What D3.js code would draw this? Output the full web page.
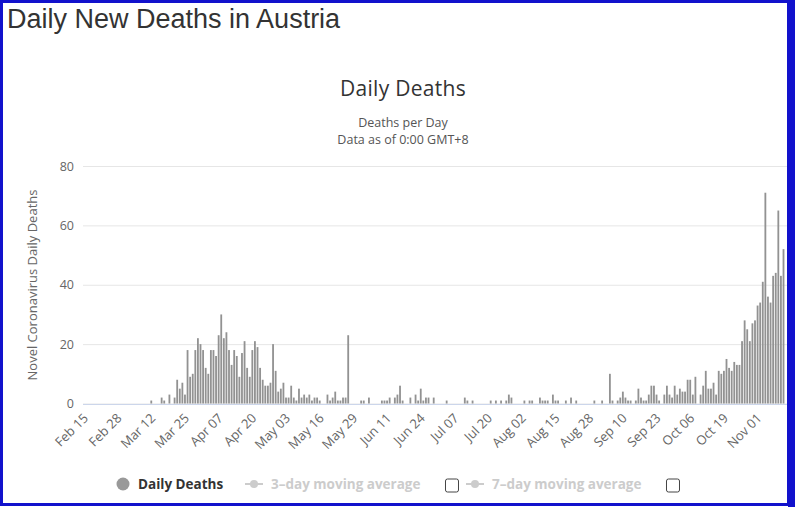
<!DOCTYPE html>
<html>
<head>
<meta charset="utf-8">
<script src="https://cdn.jsdelivr.net/npm/d3@7"></script>
<style>
  body { margin: 0; background: #fff; }
  svg { display: block; }
  .chart-text { font-family: "Open Sans", sans-serif; }
</style>
</head>
<body>
<svg id="chart" width="795" height="507"></svg>
<script>
// daily deaths, one value per day from Feb 15 to Nov 12
var deaths = [
  0, 0, 0, 0, 0, 0, 0, 0, 0, 0,
  0, 0, 0, 0, 0, 0, 0, 0, 0, 0,
  0, 0, 0, 0, 0, 0, 1, 0, 0, 0,
  2, 1, 0, 3, 0, 2, 8, 5, 7, 3,
  18, 9, 10, 18, 22, 20, 18, 12, 10, 18,
  18, 16, 23, 30, 22, 24, 18, 13, 18, 16,
  9, 17, 21, 12, 9, 18, 21, 19, 12, 8,
  6, 6, 7, 20, 11, 4, 5, 7, 2, 2,
  6, 2, 1, 5, 2, 3, 2, 3, 1, 2,
  2, 1, 0, 0, 3, 1, 2, 4, 1, 1,
  2, 2, 23, 0, 0, 0, 0, 1, 1, 0,
  2, 0, 0, 0, 0, 1, 1, 1, 2, 0,
  2, 3, 6, 1, 0, 0, 2, 0, 3, 1,
  5, 1, 2, 2, 0, 2, 0, 0, 0, 0,
  1, 0, 0, 0, 0, 0, 0, 2, 1, 0,
  1, 0, 0, 0, 0, 0, 0, 1, 0, 1,
  0, 1, 0, 1, 3, 2, 0, 0, 0, 0,
  1, 0, 1, 1, 0, 0, 2, 1, 1, 1,
  0, 3, 1, 1, 0, 0, 1, 0, 2, 0,
  1, 0, 0, 0, 0, 0, 0, 1, 0, 0,
  1, 0, 0, 10, 1, 0, 1, 2, 4, 2,
  1, 1, 0, 1, 5, 2, 1, 1, 3, 6,
  6, 3, 1, 0, 3, 6, 3, 2, 6, 3,
  5, 4, 4, 8, 8, 3, 9, 0, 3, 6,
  11, 5, 5, 7, 3, 11, 10, 11, 15, 12,
  11, 14, 13, 13, 21, 28, 25, 21, 27, 28,
  33, 34, 41, 71, 36, 34, 43, 44, 65, 43,
  52
];

var fmt = d3.timeFormat("%b %d");
var days = d3.timeDay.range(new Date(2020, 1, 15), new Date(2020, 10, 13)).map(fmt);

var tickLabels = ["Feb 15", "Feb 28", "Mar 12", "Mar 25", "Apr 07", "Apr 20", "May 03",
  "May 16", "May 29", "Jun 11", "Jun 24", "Jul 07", "Jul 20", "Aug 02", "Aug 15",
  "Aug 28", "Sep 10", "Sep 23", "Oct 06", "Oct 19", "Nov 01"];
var yTicks = [0, 20, 40, 60, 80];

var legendItems = [
  { name: "Daily Deaths", on: true },
  { name: "3\u2013day moving average", on: false },
  { name: "7\u2013day moving average", on: false }
];

var svg = d3.select("#chart");

var xScale = d3.scaleBand().domain(days).range([83, 787]).paddingInner(0.3);
var yScale = d3.scaleLinear().domain([0, 80]).range([403.5, 166]);

// page title
svg.append("text")
  .attr("x", 7).attr("y", 28)
  .attr("font-family", "Liberation Sans, Arial, sans-serif")
  .attr("font-size", 27).attr("fill", "#333")
  .text("Daily New Deaths in Austria");

// chart titles
svg.append("text").attr("class", "chart-text")
  .attr("x", 403).attr("y", 96).attr("text-anchor", "middle")
  .attr("font-size", 21).attr("fill", "#333")
  .attr("letter-spacing", 0.3)
  .text("Daily Deaths");
svg.append("text").attr("class", "chart-text")
  .attr("x", 403).attr("y", 127).attr("text-anchor", "middle")
  .attr("font-size", 12.5).attr("fill", "#555")
  .text("Deaths per Day");
svg.append("text").attr("class", "chart-text")
  .attr("x", 403).attr("y", 144).attr("text-anchor", "middle")
  .attr("font-size", 12.5).attr("fill", "#555")
  .text("Data as of 0:00 GMT+8");

// grid + y labels
var yAxis = d3.axisLeft(yScale).tickValues(yTicks).tickSize(-(787 - 83)).tickPadding(9);
var yG = svg.append("g").attr("transform", "translate(83,0)").call(yAxis);
yG.select(".domain").remove();
yG.selectAll(".tick line").attr("stroke", "#e6e6e6");
yG.selectAll(".tick text").attr("class", "chart-text")
  .attr("font-size", 12.5).attr("fill", "#666");

svg.append("text").attr("class", "chart-text")
  .attr("transform", "translate(37,285) rotate(-90)")
  .attr("text-anchor", "middle")
  .attr("font-size", 13).attr("fill", "#666")
  .text("Novel Coronavirus Daily Deaths");

// bars
svg.append("g").selectAll("rect")
  .data(deaths)
  .join("rect")
  .attr("x", function (d, i) { return xScale(days[i]); })
  .attr("width", xScale.bandwidth())
  .attr("y", function (d) { return yScale(d); })
  .attr("height", function (d) { return yScale(0) - yScale(d); })
  .attr("fill", "#929292");

// x axis
var xAxis = d3.axisBottom(xScale).tickValues(tickLabels).tickSize(0).tickPadding(0);
var xG = svg.append("g").attr("transform", "translate(0,404)").call(xAxis);
xG.select(".domain").attr("stroke", "#ccd6eb").attr("d", "M83,0.5H787");
xG.selectAll(".tick text")
  .attr("class", "chart-text")
  .attr("font-size", 13).attr("fill", "#666")
  .attr("text-anchor", "end")
  .attr("dy", null).attr("y", 0)
  .attr("transform", "translate(5,15) rotate(-45)");

// legend
var legendX = [116, 245, 466];
var lg = svg.append("g").selectAll("g").data(legendItems).join("g")
  .attr("transform", function (d, i) { return "translate(" + legendX[i] + ",484)"; });
lg.each(function (d, i) {
  var g = d3.select(this);
  var col = d.on ? "#333" : "#ccc";
  if (i === 0) {
    g.append("circle").attr("cx", 7).attr("cy", 0).attr("r", 6.5).attr("fill", "#999");
  } else {
    g.append("line").attr("x1", 0).attr("x2", 18).attr("y1", 0).attr("y2", 0)
      .attr("stroke", "#ccc").attr("stroke-width", 2);
    g.append("circle").attr("cx", 9).attr("cy", 0).attr("r", 4).attr("fill", "#ccc");
  }
  var t = g.append("text").attr("class", "chart-text")
    .attr("x", i === 0 ? 22 : 26).attr("y", 5)
    .attr("font-size", 13.5).attr("font-weight", "bold").attr("fill", col)
    .text(d.name);
  if (i > 0) {
    var w = t.node().getComputedTextLength();
    g.append("rect").attr("x", 26 + w + 25).attr("y", -5).attr("width", 13).attr("height", 13)
      .attr("rx", 2).attr("fill", "#fff").attr("stroke", "#444").attr("stroke-width", 1);
  }
});

// frame
svg.append("rect").attr("x", 1.5).attr("y", 1.5).attr("width", 787).attr("height", 503)
  .attr("fill", "none").attr("stroke", "#1111cc").attr("stroke-width", 3);
svg.append("rect").attr("x", 788).attr("y", 0).attr("width", 7).attr("height", 507)
  .attr("fill", "#1111cc");
</script>
</body>
</html>
